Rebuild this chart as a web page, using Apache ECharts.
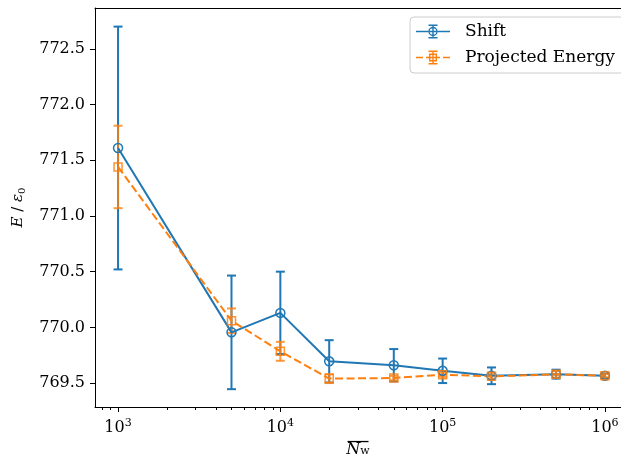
<!DOCTYPE html>
<html><head><meta charset="utf-8">
<script src="https://cdn.jsdelivr.net/npm/echarts@6/dist/echarts.min.js"></script>
<style>html,body{margin:0;padding:0;background:#fff}#c{width:621px;height:459px}</style>
</head><body><div id="c"></div>
<script>
// ---- data ----
const Nw = [1000, 5000, 10000, 20000, 50000, 100000, 200000, 500000, 1000000];
const shiftE = [771.61, 769.955, 770.13, 769.695, 769.66, 769.61, 769.565, 769.58, 769.566];
const shiftErr = [1.09, 0.51, 0.37, 0.19, 0.145, 0.11, 0.075, 0.04, 0.02];
const projE = [771.44, 770.06, 769.785, 769.54, 769.545, 769.575, 769.56, 769.578, 769.566];
const projErr = [0.37, 0.11, 0.085, 0.04, 0.02, 0.02, 0.02, 0.03, 0.015];
const yTicks = [769.5, 770.0, 770.5, 771.0, 771.5, 772.0, 772.5];
const xTickExp = [3, 4, 5, 6];
const xMinorRaw = [800, 900, 2000, 3000, 4000, 5000, 6000, 7000, 8000, 9000,
  20000, 30000, 40000, 50000, 60000, 70000, 80000, 90000,
  200000, 300000, 400000, 500000, 600000, 700000, 800000, 900000];
const seriesNames = ['Shift', 'Projected Energy'];

const FONT = 'DejaVu Serif';
const C1 = '#1f77b4', C2 = '#ff7f0e';
const X_MIN_EXP = 2.858, X_MAX_EXP = 6.099;

const chart = echarts.init(document.getElementById('c'), null, {renderer: 'canvas'});

function errSeries(name, vals, errs, color, opacity) {
  return {
    type: 'custom', name: name, xAxisIndex: 0, yAxisIndex: 0, silent: true,
    data: Nw.map((x, i) => [x, vals[i] - errs[i], vals[i] + errs[i]]),
    encode: {x: 0, y: [1, 2]},
    renderItem: function (params, api) {
      const x = api.value(0);
      const lo = api.coord([x, api.value(1)]);
      const hi = api.coord([x, api.value(2)]);
      const cap = 4.5;
      const style = {stroke: color, lineWidth: 2, opacity: opacity};
      return {type: 'group', children: [
        {type: 'line', shape: {x1: lo[0], y1: lo[1], x2: hi[0], y2: hi[1]}, style: style},
        {type: 'line', shape: {x1: lo[0] - cap, y1: lo[1], x2: lo[0] + cap, y2: lo[1]}, style: style},
        {type: 'line', shape: {x1: hi[0] - cap, y1: hi[1], x2: hi[0] + cap, y2: hi[1]}, style: style}
      ]};
    }
  };
}

// legend icons (34 x 14 box)
const shiftIcon = 'path://' +
  'M0 6.3H12.3V7.7H0Z M21.7 6.3H34V7.7H21.7Z M13.7 6.3H20.3V7.7H13.7Z' +
  'M16.3 0H17.7V2.3H16.3Z M16.3 3.7H17.7V10.3H16.3Z M16.3 11.7H17.7V14H16.3Z' +
  'M12.5 0H21.5V1.4H12.5Z M12.5 12.6H21.5V14H12.5Z' +
  'M21.7 7A4.7 4.7 0 1 0 12.3 7A4.7 4.7 0 1 0 21.7 7Z' +
  'M20.3 7A3.3 3.3 0 1 1 13.7 7A3.3 3.3 0 1 1 20.3 7Z';
const projIcon = 'path://' +
  'M0 6.3H7V7.7H0Z M10 6.3H13V7.7H10Z M14.4 6.3H19.6V7.7H14.4Z M21 6.3H24V7.7H21Z M27 6.3H34V7.7H27Z' +
  'M16.3 0H17.7V3H16.3Z M16.3 4.4H17.7V9.6H16.3Z M16.3 11H17.7V14H16.3Z' +
  'M12.5 0H21.5V1.4H12.5Z M12.5 12.6H21.5V14H12.5Z' +
  'M13 3H21V11H13Z M14.4 4.4V9.6H19.6V4.4Z';

const hiddenValueX = {type: 'value', min: X_MIN_EXP, max: X_MAX_EXP, splitLine: {show: false}};

const option = {
  animation: false,
  backgroundColor: '#fff',
  grid: {left: 95, top: 8, right: 0, bottom: 52, show: false, containLabel: false, outerBoundsMode: 'none'},
  legend: {
    orient: 'vertical', left: 410, top: 17,
    padding: [6, 9, 7, 6], itemGap: 9, itemWidth: 34, itemHeight: 14,
    backgroundColor: 'rgba(255,255,255,0.8)', borderColor: '#cccccc', borderWidth: 1, borderRadius: 4,
    itemStyle: {borderWidth: 0},
    textStyle: {fontFamily: FONT, fontSize: 17, color: '#000', padding: [0, 0, 0, 10]},
    data: [
      {name: seriesNames[0], icon: shiftIcon, itemStyle: {color: C1, borderWidth: 0}},
      {name: seriesNames[1], icon: projIcon, itemStyle: {color: C2, borderWidth: 0}}
    ]
  },
  xAxis: [
    {type: 'log', logBase: 10, min: Math.pow(10, X_MIN_EXP), max: Math.pow(10, X_MAX_EXP), show: false},
    Object.assign({}, hiddenValueX, {position: 'bottom',
      axisLine: {show: true, lineStyle: {color: '#000', width: 1}},
      axisTick: {show: true, customValues: xTickExp, length: 5, lineStyle: {color: '#000', width: 1}},
      axisLabel: {customValues: xTickExp, margin: 11, color: '#000',
        formatter: function (v) { return '{b|10}{s|' + Math.round(v) + '}'; },
        rich: {
          b: {fontFamily: FONT, fontSize: 16, color: '#000', lineHeight: 20, verticalAlign: 'middle'},
          s: {fontFamily: FONT, fontSize: 11, color: '#000', lineHeight: 12, verticalAlign: 'top'}
        }},
      name: '{o| }\n{n|N}{w|w}', nameLocation: 'middle', nameGap: 33,
      nameTextStyle: {color: '#000', rich: {
        o: {width: 21, height: 1.3, lineHeight: 2, fontSize: 1, backgroundColor: '#000'},
        n: {fontFamily: FONT, fontStyle: 'italic', fontSize: 16, lineHeight: 14, color: '#000'},
        w: {fontFamily: FONT, fontSize: 11, lineHeight: 8, verticalAlign: 'bottom', color: '#000'}
      }}
    }),
    Object.assign({}, hiddenValueX, {position: 'bottom',
      axisLine: {show: false}, axisLabel: {show: false},
      axisTick: {show: true, customValues: xMinorRaw.map(v => Math.log10(v)), length: 3, lineStyle: {color: '#000', width: 1}}
    }),
    Object.assign({}, hiddenValueX, {position: 'top',
      axisLine: {show: true, lineStyle: {color: '#000', width: 1}},
      axisTick: {show: false}, axisLabel: {show: false}
    })
  ],
  yAxis: {
    type: 'value', min: 769.285, max: 772.867,
    axisLine: {show: true, lineStyle: {color: '#000', width: 1}}, splitLine: {show: false},
    axisTick: {show: true, customValues: yTicks, length: 5, lineStyle: {color: '#000', width: 1}},
    axisLabel: {customValues: yTicks, margin: 10, fontFamily: FONT, fontSize: 16, color: '#000',
      formatter: function (v) { return v.toFixed(1); }},
    name: '{i|E} / {i|ε}{s|0}', nameLocation: 'middle', nameGap: 68, nameRotate: 90,
    nameTextStyle: {fontFamily: FONT, fontSize: 15, color: '#000', rich: {
      i: {fontFamily: FONT, fontStyle: 'italic', fontSize: 15, lineHeight: 18, color: '#000'},
      s: {fontFamily: FONT, fontSize: 10, lineHeight: 9, verticalAlign: 'bottom', color: '#000'}
    }}
  },
  series: [
    errSeries(seriesNames[0], shiftE, shiftErr, C1, 1),
    {type: 'line', name: seriesNames[0], xAxisIndex: 0, yAxisIndex: 0, silent: true,
      data: Nw.map((x, i) => [x, shiftE[i]]),
      symbol: 'circle', symbolSize: 9,
      itemStyle: {color: 'transparent', borderColor: C1, borderWidth: 1.5},
      lineStyle: {color: C1, width: 2}},
    errSeries(seriesNames[1], projE, projErr, C2, 0.8),
    {type: 'line', name: seriesNames[1], xAxisIndex: 0, yAxisIndex: 0, silent: true,
      data: Nw.map((x, i) => [x, projE[i]]),
      symbol: 'rect', symbolSize: 8,
      itemStyle: {color: 'transparent', borderColor: C2, borderWidth: 1.5, opacity: 0.85},
      lineStyle: {color: C2, width: 2, type: [8, 3.5]}}
  ]
};
chart.setOption(option);
</script>
</body></html>
